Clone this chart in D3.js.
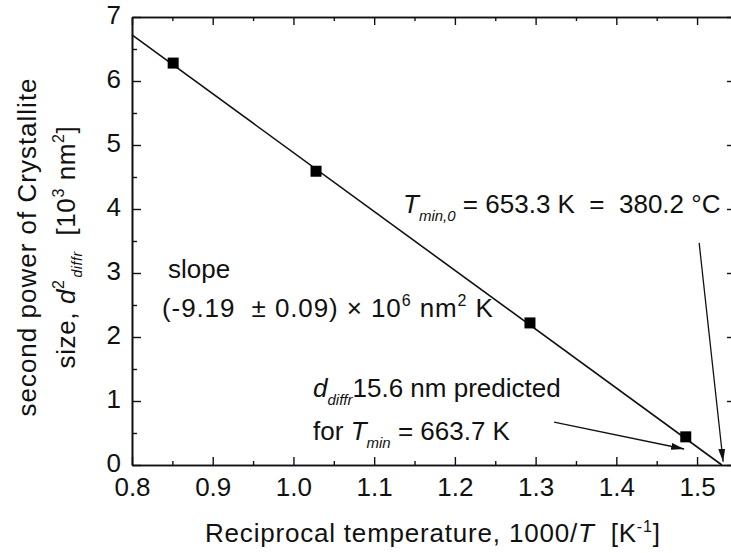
<!DOCTYPE html>
<html>
<head>
<meta charset="utf-8">
<script src="https://cdn.jsdelivr.net/npm/d3@7"></script>
<style>
  body { margin: 0; background: #fff; }
  text { font-family: "Liberation Sans", Arial, sans-serif; fill: #111; white-space: pre; }
</style>
</head>
<body>
<svg id="chart" width="731" height="553"></svg>
<script>
// ---------------------- DATA ----------------------
const invT = [0.851, 1.028, 1.293, 1.486];      // 1000/T [K^-1]
const dSquared = [6.28, 4.59, 2.22, 0.44];       // d^2 [10^3 nm^2]
const fitX = [0.8, 1.5307];                      // linear fit ends
const fitY = [6.72, 0];
const xTicks = [0.8, 0.9, 1.0, 1.1, 1.2, 1.3, 1.4, 1.5];
const xMinor = [0.85, 0.95, 1.05, 1.15, 1.25, 1.35, 1.45];
const yTicks = [0, 1, 2, 3, 4, 5, 6, 7];
const yMinor = [0.5, 1.5, 2.5, 3.5, 4.5, 5.5, 6.5];
// arrows: [x0, y0, x1, y1] in data units (tail -> head)
const arrows = [
    [1.5026, 3.47, 1.5323, 0.05],
    [1.3229, 0.67, 1.484, 0.25]
];

// ---------------------- SCALES ----------------------
const svg = d3.select("#chart");
const x = d3.scaleLinear().domain([0.8, 1.547]).range([132, 735]);
const y = d3.scaleLinear().domain([0, 7]).range([465, 17]);

// ---------------------- AXES ----------------------
function drawAxis(axis, tx, ty, labels) {
    const g = svg.append("g").attr("transform", `translate(${tx},${ty})`).call(axis);
    g.select(".domain").attr("stroke", "#111").attr("stroke-width", 1.6);
    g.selectAll(".tick line").attr("stroke", "#111").attr("stroke-width", 1.4);
    if (!labels) g.selectAll(".tick text").remove();
    else g.selectAll(".tick text").attr("fill", "#111").style("font-size", "26px")
        .style("font-family", '"Liberation Sans", Arial, sans-serif');
    return g;
}

drawAxis(d3.axisBottom(x).tickValues(xTicks).tickFormat(d3.format(".1f")).tickSize(-8).tickSizeOuter(0).tickPadding(13), 0, 465, true);
drawAxis(d3.axisBottom(x).tickValues(xMinor).tickSize(-4).tickSizeOuter(0), 0, 465, false);
drawAxis(d3.axisTop(x).tickValues(xTicks).tickSize(-8).tickSizeOuter(0), 0, 17, false);
drawAxis(d3.axisTop(x).tickValues(xMinor).tickSize(-4).tickSizeOuter(0), 0, 17, false);
drawAxis(d3.axisLeft(y).tickValues(yTicks).tickFormat(d3.format("d")).tickSize(-9).tickSizeOuter(0).tickPadding(11), 132, 0, true)
    .selectAll(".tick text").attr("dy", "0.26em");
drawAxis(d3.axisLeft(y).tickValues(yMinor).tickSize(-5).tickSizeOuter(0), 132, 0, false);
drawAxis(d3.axisRight(y).tickValues(yTicks).tickSize(-8).tickSizeOuter(0), 735, 0, false);

// ---------------------- FIT LINE + POINTS ----------------------
svg.append("path")
    .datum(d3.zip(fitX, fitY))
    .attr("fill", "none")
    .attr("stroke", "#111")
    .attr("stroke-width", 1.6)
    .attr("d", d3.line().x(d => x(d[0])).y(d => y(d[1])));

svg.selectAll(".pt")
    .data(d3.zip(invT, dSquared))
    .join("rect")
    .attr("class", "pt")
    .attr("x", d => x(d[0]) - 5.5)
    .attr("y", d => y(d[1]) - 5.5)
    .attr("width", 11)
    .attr("height", 11)
    .attr("fill", "#000");

// ---------------------- ARROWS ----------------------
svg.append("defs").append("marker")
    .attr("id", "head")
    .attr("markerUnits", "userSpaceOnUse")
    .attr("markerWidth", 14).attr("markerHeight", 8)
    .attr("refX", 13).attr("refY", 3.5)
    .attr("orient", "auto")
    .append("path")
    .attr("d", "M0,0 L13,3.5 L0,7 Z")
    .attr("fill", "#111");

svg.selectAll(".arrow")
    .data(arrows)
    .join("line")
    .attr("class", "arrow")
    .attr("x1", d => x(d[0])).attr("y1", d => y(d[1]))
    .attr("x2", d => x(d[2])).attr("y2", d => y(d[3]))
    .attr("stroke", "#111")
    .attr("stroke-width", 1.3)
    .attr("marker-end", "url(#head)");

// ---------------------- TEXT ----------------------
// helper: text with mixed spans (t = string, it = italic, sz = size, sh = baseline shift, dx)
function rich(parent, px, py, parts, size) {
    const t = parent.append("text").attr("x", px).attr("y", py).style("font-size", size + "px");
    let cur = 0;
    parts.forEach(p => {
        const s = t.append("tspan").text(p.t);
        if (p.it) s.style("font-style", "italic");
        if (p.sz) s.style("font-size", p.sz + "px");
        const dy = (p.sh || 0) - cur;
        if (dy) s.attr("dy", dy);
        if (p.dx) s.attr("dx", p.dx);
        cur = p.sh || 0;
    });
    return t;
}

// x axis title
rich(svg, 205, 542, [
    {t: "Reciprocal temperature, 1000/"},
    {t: "T", it: true},
    {t: "  [K"},
    {t: "-1", sz: 16, sh: -10},
    {t: "]", sh: 0}
], 26).style("letter-spacing", "0.8px");

// y axis title (two lines)
rich(svg.append("g").attr("transform", "translate(36,247) rotate(-90)"), 0, 0, [
    {t: "second power of Crystallite"}
], 26).attr("text-anchor", "middle").style("letter-spacing", "1px");

rich(svg.append("g").attr("transform", "translate(75,247) rotate(-90)"), 0, 0, [
    {t: "size, "},
    {t: "d", it: true},
    {t: "2", sz: 16, sh: -11},
    {t: "diffr", it: true, sz: 14, sh: 7, dx: 2},
    {t: "  [10", sh: 0},
    {t: "3", sz: 16, sh: -11},
    {t: " nm", sh: 0},
    {t: "2", sz: 16, sh: -11},
    {t: "]", sh: 0}
], 26).attr("text-anchor", "middle").style("letter-spacing", "0.6px");

// annotations
rich(svg, x(0.8446), y(2.92), [{t: "slope"}], 26);
rich(svg, x(0.8372), y(2.31), [
    {t: "(-9.19  \u00b1 0.09) \u00d7 10"},
    {t: "6", sz: 16, sh: -11},
    {t: " nm", sh: 0},
    {t: "2", sz: 16, sh: -11},
    {t: " K", sh: 0}
], 26).style("letter-spacing", "0.9px");

rich(svg, x(1.0243), y(1.06), [
    {t: "d", it: true},
    {t: "diffr", it: true, sz: 15, sh: 8},
    {t: "15.6 nm predicted", sh: 0}
], 26);

rich(svg, x(1.0243), y(0.39), [
    {t: "for "},
    {t: "T", it: true},
    {t: "min", it: true, sz: 15, sh: 8},
    {t: " = 663.7 K", sh: 0}
], 26);

rich(svg, x(1.1358), y(3.94), [
    {t: "T", it: true},
    {t: "min,0", it: true, sz: 15, sh: 8},
    {t: " = 653.3 K  =  380.2 \u00b0C", sh: 0}
], 26);
</script>
</body>
</html>
